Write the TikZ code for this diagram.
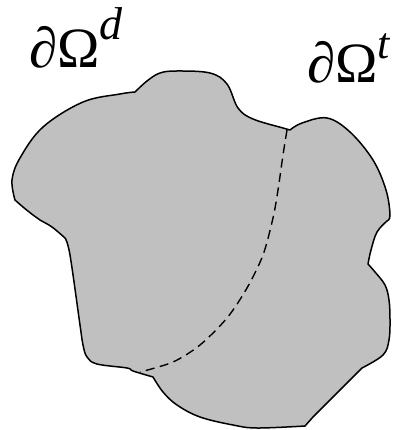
\documentclass[tikz,border=0pt]{standalone}
\usepackage{fontspec}
\setmainfont{Liberation Serif}
\definecolor{shapegray}{RGB}{192,192,192}
\tikzset{
  outline/.style={fill=shapegray, draw=black, line width=1.5pt, line join=round},
  interface/.style={draw=black, line width=1.4pt, dash pattern=on 9pt off 5.5pt},
  bdlabel/.style={inner sep=0pt, anchor=base west, font=\fontsize{57}{60}\selectfont}
}
\newcommand{\supit}[3]{\raisebox{#1}{\fontsize{#2}{#2}\selectfont\itshape #3}}
\begin{document}
\begin{tikzpicture}[x=1pt,y=-1pt]
\useasboundingbox (0,0) rectangle (403,430);
\path[outline]
 plot[smooth, tension=0.6] coordinates {(15,200) (12,180) (20,158) (43,127) (83,102) (120,94) (135,92)}
 -- plot[smooth, tension=0.6] coordinates {(135,92) (147,81) (160,73) (177,71) (210,73) (227,84) (238,108) (253,119) (283,128) (290,130)}
 -- plot[smooth, tension=0.6] coordinates {(290,130) (302,123) (327,118) (350,132) (373,160) (386,190) (390,215) (387,221)}
 -- plot[smooth, tension=0.6] coordinates {(387,221) (377,232) (371,250) (368,264)}
 -- plot[smooth, tension=0.6] coordinates {(368,264) (375,272) (385,285) (389,300) (390,320) (389,340) (383,355) (362,368)}
 -- (313,417) -- (305,426)
 -- plot[smooth, tension=0.6] coordinates {(305,426) (257,428) (233,425) (200,417) (177,405) (163,392) (153,377)}
 -- plot[smooth, tension=0.6] coordinates {(153,377) (133,371) (127,368) (97,364) (87,357) (83,345) (80,325) (70,255) (65,238)}
 -- plot[smooth, tension=0.6] coordinates {(65,238) (52,227) (40,220) (33,215) (23,207) (15,200)}
 -- cycle;
\draw[interface] plot[smooth] coordinates {(287,130) (283,155) (278,190) (273,218) (263,255) (247,288) (227,318) (200,345) (173,362) (140,372)};
\node[bdlabel] (ld) at (29,68) {∂Ω\supit{28pt}{46}{d}};
\node[bdlabel] (lt) at (307,83) {∂Ω\supit{24pt}{44}{t}};
\end{tikzpicture}
\end{document}
